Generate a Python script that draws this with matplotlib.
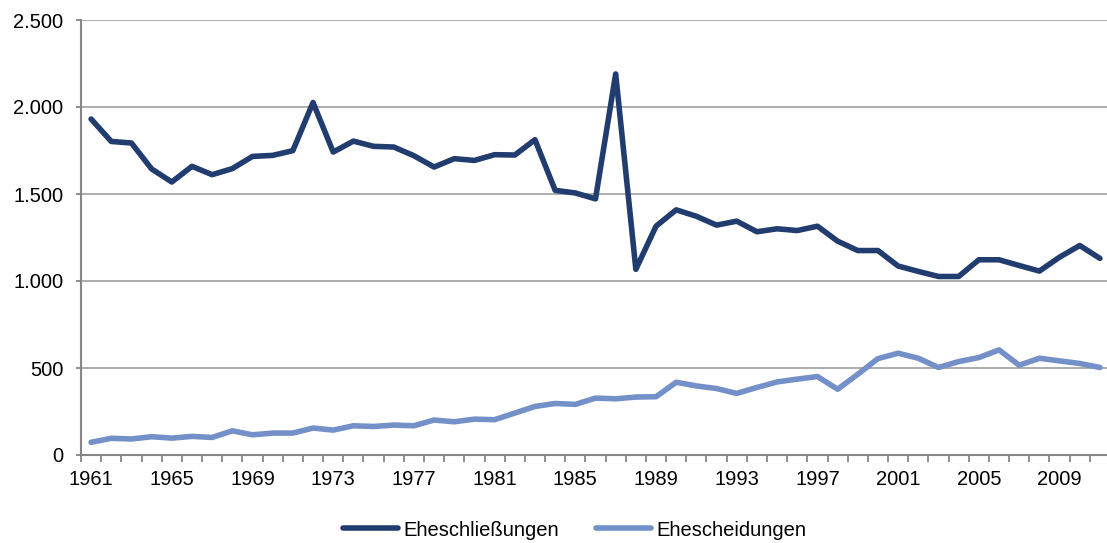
import numpy as np
import matplotlib.pyplot as plt
from matplotlib.ticker import FuncFormatter

plt.rcParams['font.family'] = ['Liberation Sans', 'DejaVu Sans']

# Jahre und Werte
years = list(range(1961, 2012))
eheschliessungen = [1931, 1802, 1793, 1644, 1569, 1659, 1611, 1646, 1716, 1722,
                    1749, 2026, 1741, 1804, 1774, 1770, 1720, 1655, 1703, 1693,
                    1726, 1724, 1812, 1521, 1506, 1472, 2190, 1067, 1315, 1409,
                    1372, 1321, 1344, 1283, 1300, 1290, 1315, 1229, 1175, 1175,
                    1086, 1055, 1026, 1026, 1122, 1122, 1089, 1057, 1137, 1204,
                    1130]
ehescheidungen = [73, 96, 92, 105, 97, 107, 101, 139, 116, 126,
                  126, 155, 143, 168, 164, 172, 168, 201, 191, 206,
                  203, 241, 279, 296, 291, 327, 323, 333, 335, 418,
                  397, 382, 354, 388, 420, 436, 451, 378, 464, 554,
                  585, 556, 503, 537, 560, 604, 516, 556, 541, 526,
                  503]

x = np.arange(len(years))

fig = plt.figure(figsize=(11.07, 5.43), dpi=100)
ax = fig.add_axes([81 / 1107, 88 / 543, 1029 / 1107, 435 / 543])

grid_col = '#a6a6a6'
axis_col = '#868686'
fs = 14.5

ax.plot(x, eheschliessungen, color='#213c6e', lw=4.0, solid_joinstyle='round',
        solid_capstyle='round', label='Eheschließungen', zorder=3)
ax.plot(x, ehescheidungen, color='#7490c8', lw=4.0, solid_joinstyle='round',
        solid_capstyle='round', label='Ehescheidungen', zorder=3)

ax.set_xlim(-0.5, len(years) - 0.5)
ax.set_ylim(0, 2500)
ax.set_yticks(np.arange(0, 2501, 500))
ax.yaxis.set_major_formatter(FuncFormatter(lambda v, p: f'{int(v):,}'.replace(',', '.')))
ax.grid(axis='y', color=grid_col, lw=1.3, zorder=0)

# Striche zwischen den Kategorien, Beschriftung jedes vierte Jahr
ax.set_xticks(np.arange(-0.5, len(years), 1.0))
ax.set_xticklabels([])
ax.set_xticks(x[::4], minor=True)
ax.set_xticklabels([str(y) for y in years[::4]], minor=True)
ax.tick_params(axis='x', which='major', length=5, width=1.3, color=axis_col, direction='out')
ax.tick_params(axis='x', which='minor', length=0, pad=11, labelsize=fs)
ax.tick_params(axis='y', length=3.6, width=1.3, color=axis_col, labelsize=fs, pad=9)

for s in ['top', 'right']:
    ax.spines[s].set_visible(False)
for s in ['left', 'bottom']:
    ax.spines[s].set_color(axis_col)
    ax.spines[s].set_linewidth(1.5)

fig.legend(loc='center', bbox_to_anchor=(575 / 1107, 1 - 530 / 543), ncol=2,
           frameon=False, fontsize=fs, handlelength=2.7, handletextpad=0.3,
           columnspacing=1.85)

fig.savefig('out.png', dpi=100)
